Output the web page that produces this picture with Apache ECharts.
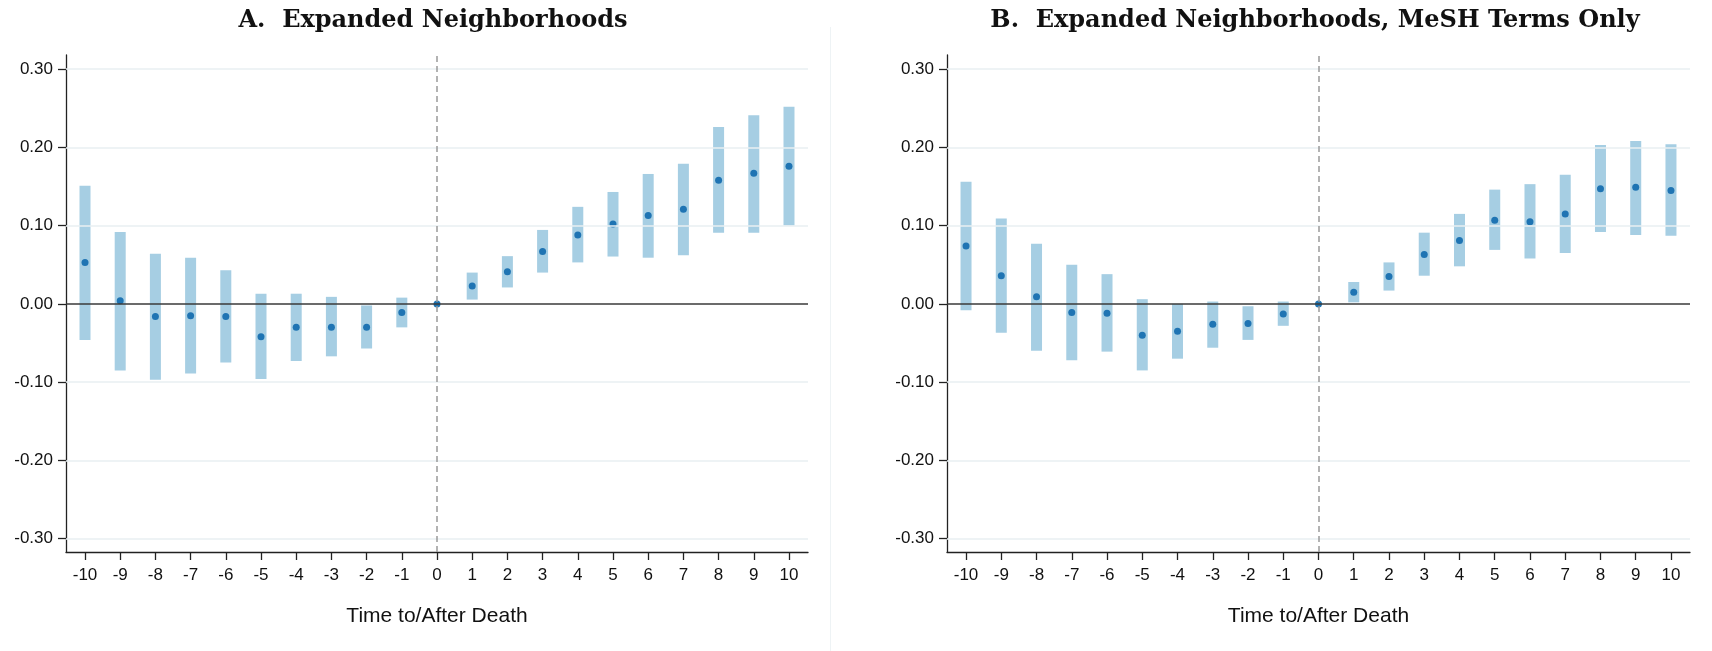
<!DOCTYPE html>
<html>
<head>
<meta charset="utf-8">
<script src="https://cdn.jsdelivr.net/npm/echarts@6/dist/echarts.min.js"></script>
<style>
html,body{margin:0;padding:0;background:#fff;}
#chart{width:1712px;height:651px;}
</style>
</head>
<body>
<div id="chart"></div>
<script>
// ---- Data ----
const years = [-10,-9,-8,-7,-6,-5,-4,-3,-2,-1,0,1,2,3,4,5,6,7,8,9,10];
const yTicks = [-0.3,-0.2,-0.1,0,0.1,0.2,0.3];

const titleA = "A.  Expanded Neighborhoods";
const titleB = "B.  Expanded Neighborhoods, MeSH Terms Only";
const xTitle = "Time to/After Death";

const estA = [0.053,0.004,-0.016,-0.015,-0.016,-0.042,-0.030,-0.030,-0.030,-0.011,0,0.023,0.041,0.067,0.088,0.102,0.113,0.121,0.158,0.167,0.176];
const loA  = [-0.046,-0.085,-0.097,-0.089,-0.075,-0.096,-0.073,-0.067,-0.057,-0.030,0,0.0055,0.021,0.040,0.053,0.0605,0.059,0.062,0.091,0.091,0.100];
const hiA  = [0.151,0.092,0.064,0.059,0.043,0.013,0.013,0.009,-0.002,0.008,0,0.040,0.061,0.0945,0.124,0.143,0.166,0.179,0.226,0.241,0.252];

const estB = [0.074,0.036,0.009,-0.011,-0.012,-0.040,-0.035,-0.026,-0.025,-0.013,0,0.015,0.035,0.063,0.081,0.107,0.105,0.115,0.147,0.149,0.145];
const loB  = [-0.008,-0.037,-0.060,-0.072,-0.061,-0.085,-0.070,-0.056,-0.046,-0.028,0,0.002,0.017,0.036,0.048,0.069,0.058,0.065,0.092,0.088,0.087];
const hiB  = [0.156,0.109,0.077,0.050,0.038,0.006,0.000,0.003,-0.003,0.003,0,0.028,0.053,0.091,0.115,0.146,0.153,0.165,0.203,0.208,0.204];

// ---- Styles ----
const BAR_COLOR = '#a6cee3';
const DOT_COLOR = '#1f74b3';
const AXIS_COLOR = '#222';
const GRID_COLOR = '#e8eff2';
const LABEL_FONT = 'Liberation Sans, Arial, sans-serif';

const chart = echarts.init(document.getElementById('chart'), null, {renderer:'canvas'});

function xAxisDef(idx){
  return {
    type:'value', gridIndex:idx, min:-10.54, max:10.54,
    splitLine:{show:false},
    axisLine:{show:true, onZero:false, lineStyle:{color:AXIS_COLOR, width:1.3}},
    axisTick:{show:true, customValues:years, length:8, inside:false, lineStyle:{color:AXIS_COLOR, width:1.3}},
    axisLabel:{customValues:years, margin:15, fontSize:17, color:'#111', fontFamily:LABEL_FONT,
      formatter:v=>String(v)},
    name:xTitle, nameLocation:'middle', nameGap:54,
    nameTextStyle:{fontSize:21, color:'#111', fontFamily:LABEL_FONT}
  };
}
function yAxisDef(idx){
  return {
    type:'value', gridIndex:idx, min:-0.317, max:0.318,
    splitLine:{show:false},
    axisLine:{show:true, onZero:false, lineStyle:{color:AXIS_COLOR, width:1.3}},
    axisTick:{show:true, customValues:yTicks, length:8, lineStyle:{color:AXIS_COLOR, width:1.3}},
    axisLabel:{customValues:yTicks, margin:13, fontSize:17, color:'#111', fontFamily:LABEL_FONT,
      formatter:v=>v.toFixed(2)}
  };
}

function panelSeries(idx, est, lo, hi){
  const ciData = years.map((y,i)=>[y, lo[i], hi[i]]);
  const ptData = years.map((y,i)=>[y, est[i]]);
  return [
    { // gridlines
      type:'line', xAxisIndex:idx, yAxisIndex:idx, data:[], z:1, silent:true,
      markLine:{silent:true, symbol:'none', label:{show:false}, animation:false,
        lineStyle:{color:GRID_COLOR, width:1.5, type:'solid'},
        data: yTicks.filter(t=>t!==0).map(t=>({yAxis:t}))}
    },
    { // CI bars
      type:'custom', xAxisIndex:idx, yAxisIndex:idx, z:2, data:ciData,
      renderItem:(params, api)=>{
        const x = api.value(0);
        const p1 = api.coord([x, api.value(2)]);
        const p2 = api.coord([x, api.value(1)]);
        const w = 11;
        return {type:'rect', shape:{x:p1[0]-w/2, y:p1[1], width:w, height:p2[1]-p1[1]},
          style:{fill:BAR_COLOR}};
      }
    },
    { // zero line & event line
      type:'line', xAxisIndex:idx, yAxisIndex:idx, data:[], z:3, silent:true,
      markLine:{silent:true, symbol:'none', label:{show:false}, animation:false,
        data:[
          {yAxis:0, lineStyle:{color:'#3a3a3a', width:1.6, type:'solid'}},
          {xAxis:0, lineStyle:{color:'#9a9a9a', width:1.5, type:[6,4]}}
        ]}
    },
    { // point estimates
      type:'scatter', xAxisIndex:idx, yAxisIndex:idx, z:4, data:ptData,
      symbol:'circle', symbolSize:7, itemStyle:{color:DOT_COLOR, opacity:1}
    }
  ];
}

const option = {
  animation:false,
  backgroundColor:'#fff',
  title:[
    {text:titleA, left:428, top:4, textAlign:'center',
      textStyle:{fontFamily:'DejaVu Serif', fontWeight:'bold', fontSize:24, color:'#111'}},
    {text:titleB, left:1310, top:4, textAlign:'center',
      textStyle:{fontFamily:'DejaVu Serif', fontWeight:'bold', fontSize:24, color:'#111'}}
  ],
  grid:[
    {left:66, top:55, width:742, height:497},
    {left:947, top:55, width:743, height:497}
  ],
  xAxis:[xAxisDef(0), xAxisDef(1)],
  yAxis:[yAxisDef(0), yAxisDef(1)],
  graphic:[
    {type:'line', shape:{x1:830.5, y1:27, x2:830.5, y2:651}, style:{stroke:'#eef3f5', lineWidth:1}, silent:true}
  ],
  series:[
    ...panelSeries(0, estA, loA, hiA),
    ...panelSeries(1, estB, loB, hiB)
  ]
};
chart.setOption(option);
</script>
</body>
</html>
